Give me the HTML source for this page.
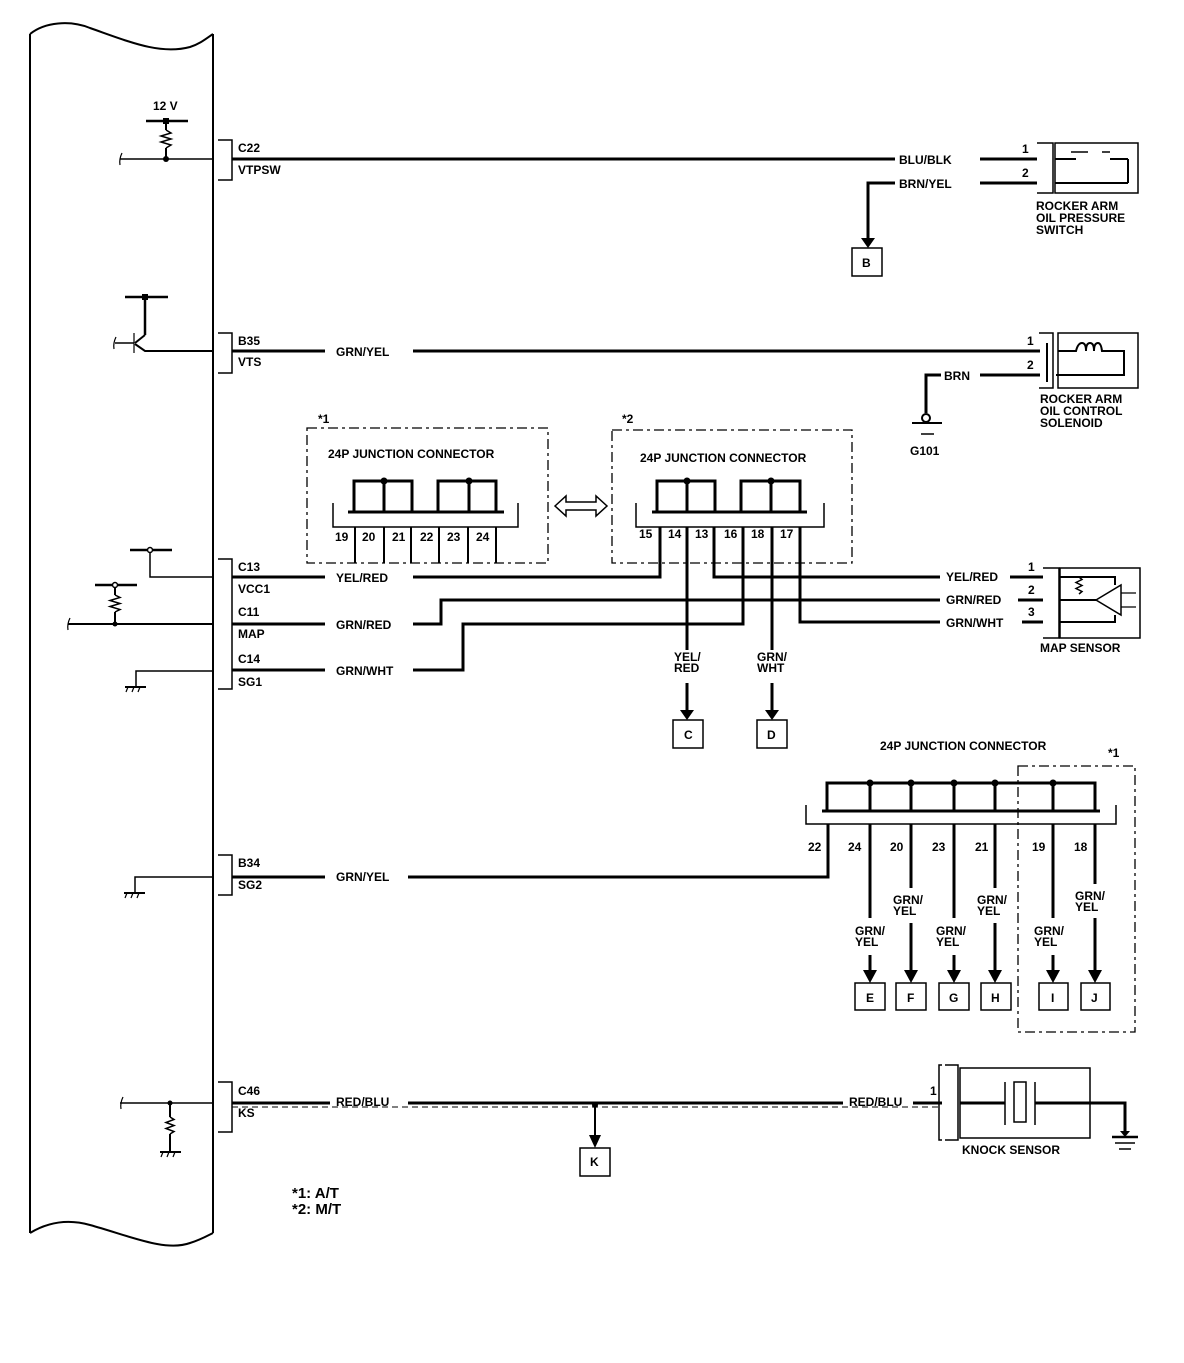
<!DOCTYPE html>
<html><head><meta charset="utf-8"><style>
html,body{margin:0;padding:0;background:#fff}
svg text{font-family:"Liberation Sans",sans-serif;font-weight:bold;font-size:12px;fill:#000}
</style></head><body>
<svg width="1184" height="1358" viewBox="0 0 1184 1358" xmlns="http://www.w3.org/2000/svg">
<g fill="none" stroke="#000" stroke-width="2">
<path d="M30,34 C45,22 70,20 90,28 C130,42 160,55 190,47 C200,44 207,38 213,34"/>
<line x1="30" y1="34" x2="30" y2="1233"/>
<line x1="213" y1="34" x2="213" y2="1233"/>
<path d="M30,1233 C45,1224 65,1218 90,1225 C130,1236 165,1252 190,1243 C200,1240 207,1236 213,1233"/>

<line x1="146" y1="121" x2="188" y2="121" stroke-width="2.5"/>
<line x1="166" y1="121" x2="166" y2="130"/>
<path d="M166,130 l5,3 l-10,3 l10,3 l-10,3 l10,3 l-5,3" stroke-width="1.5"/>
<line x1="166" y1="148" x2="166" y2="159"/>
<path d="M122,153 q-3,6 -2,12" stroke-width="1.2"/>
<line x1="120" y1="159" x2="213" y2="159" stroke-width="1.5"/>
<path d="M218,140 h14 v40 h-14" stroke-width="1.5"/>
<line x1="232" y1="159" x2="895" y2="159" stroke-width="3"/>
<line x1="980" y1="159" x2="1037" y2="159" stroke-width="3"/>
<line x1="980" y1="183" x2="1037" y2="183" stroke-width="3"/>
<path d="M895,183 H868 V240" stroke-width="3"/>
<rect x="852" y="248" width="30" height="28" stroke-width="1.5"/>
<path d="M1037,143 h16 v50 h-16" stroke-width="1.5"/>
<rect x="1055" y="143" width="83" height="50" stroke-width="1.5"/>
<line x1="1055" y1="159" x2="1076" y2="159"/>
<line x1="1110" y1="159" x2="1128" y2="159"/>
<line x1="1128" y1="159" x2="1128" y2="183"/>
<line x1="1055" y1="183" x2="1128" y2="183"/>
<line x1="1071" y1="152" x2="1088" y2="152" stroke-width="1.5"/>
<line x1="1102" y1="152" x2="1110" y2="152" stroke-width="1.5"/>

<line x1="125" y1="297" x2="168" y2="297" stroke-width="2.5"/>
<line x1="145" y1="297" x2="145" y2="335" stroke-width="2.5"/>
<line x1="145" y1="335" x2="135" y2="343" stroke-width="2"/>
<line x1="134" y1="333" x2="134" y2="353" stroke-width="1.2"/>
<line x1="115" y1="343" x2="134" y2="343" stroke-width="1.5"/>
<path d="M116,337 q-3,6 -2,12" stroke-width="1.2"/>
<path d="M135,344 L145,351 H213" stroke-width="2"/>
<path d="M218,333 h14 v40 h-14" stroke-width="1.5"/>
<line x1="232" y1="351" x2="325" y2="351" stroke-width="3"/>
<line x1="413" y1="351" x2="1040" y2="351" stroke-width="3"/>
<path d="M941,375 H926 V413" stroke-width="3"/>
<line x1="980" y1="375" x2="1040" y2="375" stroke-width="3"/>
<circle cx="926" cy="418" r="4" stroke-width="2"/>
<line x1="912" y1="423" x2="942" y2="423" stroke-width="2"/>
<line x1="921" y1="434" x2="934" y2="434" stroke-width="1.5"/>
<path d="M1039,333 h14 v55 h-14" stroke-width="1.5"/>
<line x1="1047" y1="343" x2="1047" y2="382" stroke-width="2"/>
<rect x="1058" y="333" width="80" height="55" stroke-width="1.5"/>
<path d="M1058,351 h18 q2,-8 6,-8 q4,0 4,8 q0,-8 4,-8 q4,0 4,8 q0,-8 4,-8 q3,0 4,8 h22 v24 h-68" stroke-width="2"/>

<rect x="307" y="428" width="241" height="135" stroke-width="1.3" stroke-dasharray="10,4,3,4"/>
<path d="M354,512 V481 H412 V512 M384,481 V512 M438,512 V481 H496 V512 M469,481 V512" stroke-width="3"/>
<line x1="348" y1="512" x2="504" y2="512" stroke-width="3"/>
<path d="M333,503 V527 H518 V503" stroke-width="1.5"/>
<path d="M355,527 V563 M384,527 V563 M411,527 V563 M439,527 V563 M468,527 V563 M496,527 V563" stroke-width="2"/>

<rect x="612" y="430" width="240" height="133" stroke-width="1.3" stroke-dasharray="10,4,3,4"/>
<path d="M657,512 V481 H715 V512 M687,481 V512 M741,512 V481 H800 V512 M771,481 V512" stroke-width="3"/>
<line x1="652" y1="512" x2="807" y2="512" stroke-width="3"/>
<path d="M636,503 V527 H824 V503" stroke-width="1.5"/>

<path d="M555,506 L566,496 V502 H596 V496 L607,506 L596,516 V510 H566 V516 Z" stroke-width="1.5"/>

<line x1="130" y1="550" x2="172" y2="550" stroke-width="2.5"/>
<circle cx="150" cy="550" r="2.5" fill="#fff" stroke-width="1.5"/>
<path d="M150,552 V577 H213" stroke-width="1.5"/>
<line x1="95" y1="585" x2="137" y2="585" stroke-width="2.5"/>
<circle cx="115" cy="585" r="2.5" fill="#fff" stroke-width="1.5"/>
<line x1="115" y1="587" x2="115" y2="595"/>
<path d="M115,595 l5,2.5 l-10,3 l10,3 l-10,3 l10,3 l-5,2.5" stroke-width="1.5"/>
<line x1="115" y1="612" x2="115" y2="624"/>
<path d="M70,618 q-3,6 -2,12" stroke-width="1.2"/>
<line x1="68" y1="624" x2="213" y2="624" stroke-width="2"/>
<path d="M136,687 V671 H213" stroke-width="1.5"/>
<line x1="125" y1="687" x2="146" y2="687" stroke-width="2"/>
<path d="M128,687 l-2,5 M134,687 l-2,5 M140,687 l-2,5" stroke-width="1.2"/>
<path d="M218,559 h14 v130 h-14" stroke-width="1.5"/>

<line x1="232" y1="577" x2="325" y2="577" stroke-width="3"/>
<path d="M413,577 H660 V527" stroke-width="3"/>
<path d="M714,527 V577 H940" stroke-width="3"/>
<line x1="232" y1="624" x2="325" y2="624" stroke-width="3"/>
<path d="M413,624 H441 V600 H940" stroke-width="3"/>
<line x1="232" y1="670" x2="325" y2="670" stroke-width="3"/>
<path d="M413,670 H463 V624 H743 V527" stroke-width="3"/>
<path d="M800,527 V622 H940" stroke-width="3"/>
<path d="M687,527 V650 M687,683 V712" stroke-width="3"/>
<path d="M772,527 V650 M772,683 V712" stroke-width="3"/>
<rect x="673" y="720" width="30" height="28" stroke-width="1.5"/>
<rect x="757" y="720" width="30" height="28" stroke-width="1.5"/>
<line x1="1010" y1="577" x2="1043" y2="577" stroke-width="3"/>
<line x1="1018" y1="600" x2="1043" y2="600" stroke-width="3"/>
<line x1="1022" y1="622" x2="1043" y2="622" stroke-width="3"/>
<path d="M1043,568 h16 v70 h-16" stroke-width="1.5"/>
<rect x="1060" y="568" width="80" height="70" stroke-width="1.5"/>
<path d="M1060,577 H1115 V585 M1060,600 H1096 M1060,622 H1115 V615" stroke-width="2"/>
<path d="M1096,600 L1121,585 V615 Z" stroke-width="1.5"/>
<path d="M1121,593 H1136 M1121,607 H1136" stroke-width="1.2"/>
<path d="M1079,577 l3,2.5 l-6,3 l6,3 l-6,3 l6,3 l-3,2.5" stroke-width="1.5"/>

<rect x="1018" y="766" width="117" height="266" stroke-width="1.3" stroke-dasharray="10,4,3,4"/>
<path d="M827,811 V783 H1095 V811 M870,783 V811 M911,783 V811 M954,783 V811 M995,783 V811 M1053,783 V811" stroke-width="3"/>
<line x1="822" y1="811" x2="1100" y2="811" stroke-width="3"/>
<path d="M806,805 V824 H1116 V805" stroke-width="1.5"/>
<path d="M828,824 V877 H408" stroke-width="3"/>
<path d="M870,824 V918 M870,955 V970" stroke-width="3"/>
<path d="M911,824 V888 M911,923 V970" stroke-width="3"/>
<path d="M954,824 V918 M954,955 V970" stroke-width="3"/>
<path d="M995,824 V888 M995,923 V970" stroke-width="3"/>
<path d="M1053,824 V918 M1053,955 V970" stroke-width="3"/>
<path d="M1095,824 V884 M1095,918 V970" stroke-width="3"/>
<rect x="855" y="983" width="30" height="27" stroke-width="1.5"/>
<rect x="896" y="983" width="30" height="27" stroke-width="1.5"/>
<rect x="939" y="983" width="30" height="27" stroke-width="1.5"/>
<rect x="981" y="983" width="30" height="27" stroke-width="1.5"/>
<rect x="1039" y="983" width="29" height="27" stroke-width="1.5"/>
<rect x="1081" y="983" width="29" height="27" stroke-width="1.5"/>

<path d="M135,893 V877 H213" stroke-width="1.5"/>
<line x1="124" y1="893" x2="145" y2="893" stroke-width="2"/>
<path d="M127,893 l-2,5 M133,893 l-2,5 M139,893 l-2,5" stroke-width="1.2"/>
<path d="M218,855 h14 v40 h-14" stroke-width="1.5"/>
<line x1="232" y1="877" x2="325" y2="877" stroke-width="3"/>

<path d="M123,1097 q-3,6 -2,12" stroke-width="1.2"/>
<line x1="120" y1="1103" x2="213" y2="1103" stroke-width="1.5"/>
<line x1="170" y1="1103" x2="170" y2="1117"/>
<path d="M170,1117 l4,2.5 l-8,3 l8,3 l-8,3 l8,3 l-4,2.5" stroke-width="1.5"/>
<line x1="170" y1="1134" x2="170" y2="1152"/>
<line x1="160" y1="1152" x2="181" y2="1152" stroke-width="2"/>
<path d="M163,1152 l-2,5 M169,1152 l-2,5 M175,1152 l-2,5" stroke-width="1.2"/>
<path d="M218,1082 h14 v50 h-14" stroke-width="1.5"/>
<path d="M232,1103 H330 M408,1103 H843 M913,1103 H942" stroke-width="3"/>
<line x1="232" y1="1107" x2="942" y2="1107" stroke-width="1" stroke-dasharray="6,4"/>
<line x1="595" y1="1104" x2="595" y2="1135" stroke-width="2"/>
<rect x="580" y="1148" width="30" height="28" stroke-width="1.5"/>
<path d="M942,1065 h-3 v75 h3 M945,1065 h13 v75 h-13" stroke-width="1.5"/>
<rect x="960" y="1068" width="130" height="70" stroke-width="1.5"/>
<path d="M960,1103 H1005 M1035,1103 H1125 V1135" stroke-width="3"/>
<line x1="1005" y1="1082" x2="1005" y2="1125" stroke-width="1.5"/>
<line x1="1035" y1="1082" x2="1035" y2="1125" stroke-width="1.5"/>
<rect x="1014" y="1082" width="12" height="40" stroke-width="1.5"/>
<line x1="1112" y1="1137" x2="1138" y2="1137" stroke-width="2.5"/>
<line x1="1115" y1="1143" x2="1135" y2="1143" stroke-width="1.5"/>
<line x1="1119" y1="1149" x2="1131" y2="1149" stroke-width="1.5"/>
</g>

<g fill="#000" stroke="none">
<rect x="163" y="118" width="6" height="6"/><circle cx="166" cy="159" r="3"/>
<rect x="142" y="294" width="6" height="6"/>
<circle cx="384" cy="481" r="3.5"/><circle cx="469" cy="481" r="3.5"/>
<circle cx="687" cy="481" r="3.5"/><circle cx="771" cy="481" r="3.5"/>
<circle cx="115" cy="624" r="2.5"/>
<circle cx="870" cy="783" r="3.5"/><circle cx="911" cy="783" r="3.5"/><circle cx="954" cy="783" r="3.5"/><circle cx="995" cy="783" r="3.5"/><circle cx="1053" cy="783" r="3.5"/>
<circle cx="170" cy="1103" r="2.5"/><circle cx="595" cy="1105" r="3"/>
<polygon points="861,238 875,238 868,248"/>
<polygon points="680,710 694,710 687,720"/>
<polygon points="765,710 779,710 772,720"/>
<polygon points="863,970 877,970 870,983"/>
<polygon points="904,970 918,970 911,983"/>
<polygon points="947,970 961,970 954,983"/>
<polygon points="988,970 1002,970 995,983"/>
<polygon points="1046,970 1060,970 1053,983"/>
<polygon points="1088,970 1102,970 1095,983"/>
<polygon points="589,1135 601,1135 595,1148"/>
<polygon points="1120,1131 1130,1131 1125,1137"/>
</g>

<text x="153" y="110">12 V</text>
<text x="238" y="152">C22</text><text x="238" y="174">VTPSW</text>
<text x="899" y="164">BLU/BLK</text><text x="899" y="188">BRN/YEL</text>
<text x="1022" y="153">1</text><text x="1022" y="177">2</text>
<text x="862" y="267">B</text>
<text x="1036" y="210">ROCKER ARM</text><text x="1036" y="222">OIL PRESSURE</text><text x="1036" y="234">SWITCH</text>
<text x="238" y="345">B35</text><text x="238" y="366">VTS</text>
<text x="336" y="356">GRN/YEL</text>
<text x="1027" y="345">1</text><text x="1027" y="369">2</text>
<text x="944" y="380">BRN</text>
<text x="910" y="455">G101</text>
<text x="1040" y="403">ROCKER ARM</text><text x="1040" y="415">OIL CONTROL</text><text x="1040" y="427">SOLENOID</text>
<text x="318" y="423">*1</text><text x="622" y="423">*2</text>
<text x="328" y="458">24P JUNCTION CONNECTOR</text>
<text x="640" y="462">24P JUNCTION CONNECTOR</text>
<text x="335" y="541">19</text><text x="362" y="541">20</text><text x="392" y="541">21</text><text x="420" y="541">22</text><text x="447" y="541">23</text><text x="476" y="541">24</text>
<text x="639" y="538">15</text><text x="668" y="538">14</text><text x="695" y="538">13</text><text x="724" y="538">16</text><text x="751" y="538">18</text><text x="780" y="538">17</text>
<text x="238" y="571">C13</text><text x="238" y="593">VCC1</text>
<text x="238" y="616">C11</text><text x="238" y="638">MAP</text>
<text x="238" y="663">C14</text><text x="238" y="686">SG1</text>
<text x="336" y="582">YEL/RED</text><text x="336" y="629">GRN/RED</text><text x="336" y="675">GRN/WHT</text>
<text x="946" y="581">YEL/RED</text><text x="946" y="604">GRN/RED</text><text x="946" y="627">GRN/WHT</text>
<text x="1028" y="571">1</text><text x="1028" y="594">2</text><text x="1028" y="616">3</text>
<text x="1040" y="652">MAP SENSOR</text>
<text x="674" y="661">YEL/</text><text x="674" y="672">RED</text>
<text x="757" y="661">GRN/</text><text x="757" y="672">WHT</text>
<text x="684" y="739">C</text><text x="767" y="739">D</text>
<text x="880" y="750">24P JUNCTION CONNECTOR</text>
<text x="1108" y="757">*1</text>
<text x="808" y="851">22</text><text x="848" y="851">24</text><text x="890" y="851">20</text><text x="932" y="851">23</text><text x="975" y="851">21</text><text x="1032" y="851">19</text><text x="1074" y="851">18</text>
<text x="238" y="867">B34</text><text x="238" y="889">SG2</text>
<text x="336" y="881">GRN/YEL</text>
<text x="855" y="935">GRN/</text><text x="855" y="946">YEL</text>
<text x="893" y="904">GRN/</text><text x="893" y="915">YEL</text>
<text x="936" y="935">GRN/</text><text x="936" y="946">YEL</text>
<text x="977" y="904">GRN/</text><text x="977" y="915">YEL</text>
<text x="1034" y="935">GRN/</text><text x="1034" y="946">YEL</text>
<text x="1075" y="900">GRN/</text><text x="1075" y="911">YEL</text>
<text x="866" y="1002">E</text><text x="907" y="1002">F</text><text x="949" y="1002">G</text><text x="991" y="1002">H</text><text x="1051" y="1002">I</text><text x="1091" y="1002">J</text>
<text x="238" y="1095">C46</text><text x="238" y="1117">KS</text>
<text x="336" y="1106">RED/BLU</text><text x="849" y="1106">RED/BLU</text>
<text x="930" y="1095">1</text>
<text x="962" y="1154">KNOCK SENSOR</text>
<text x="590" y="1166">K</text>
<text x="292" y="1198" style="font-size:15px">*1: A/T</text>
<text x="292" y="1214" style="font-size:15px">*2: M/T</text>
</svg>
</body></html>
